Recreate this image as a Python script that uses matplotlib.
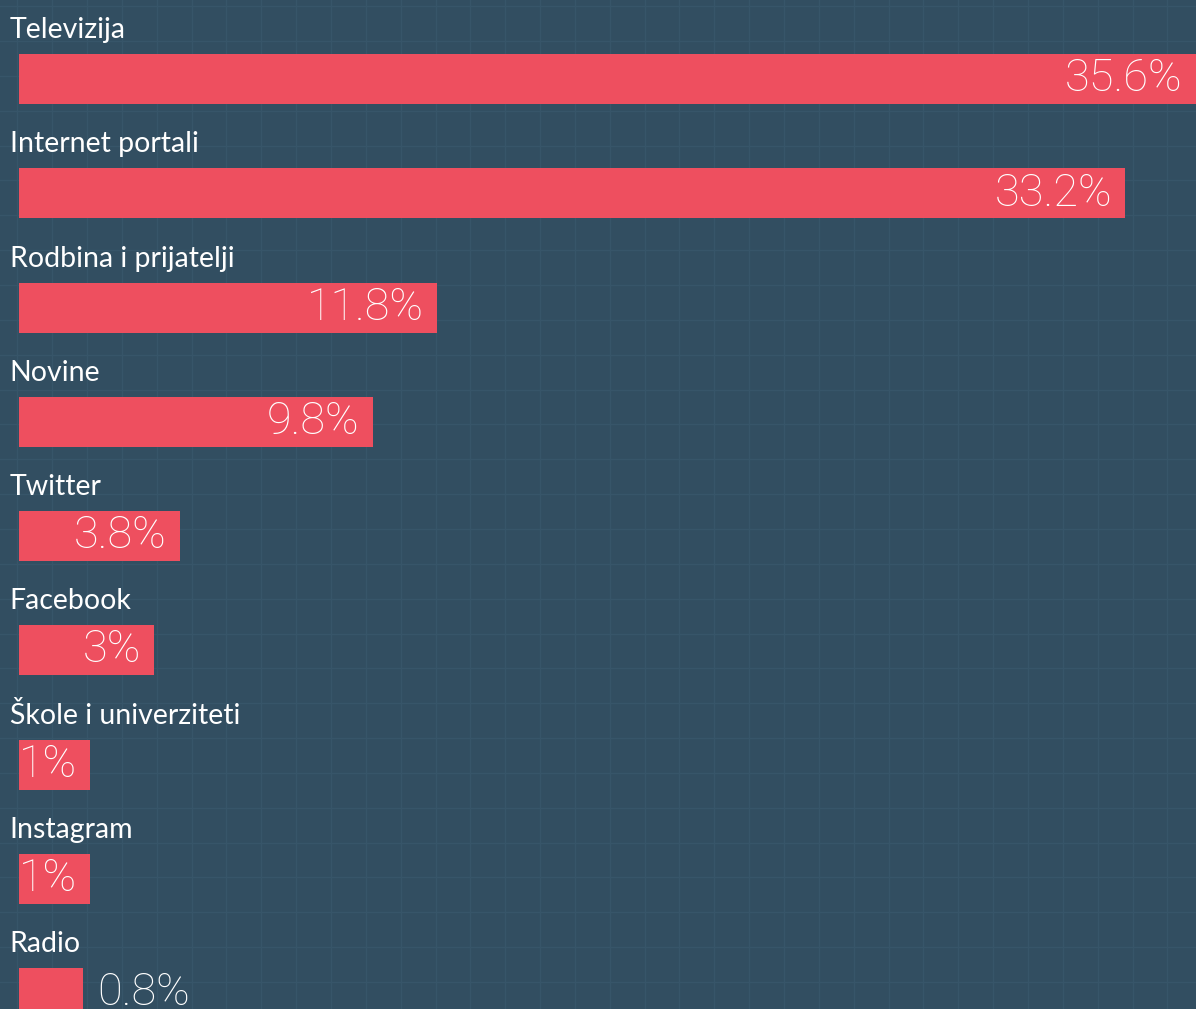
"""Horizontal bar chart: izvori informisanja (share of respondents)."""

import numpy as np
import matplotlib

matplotlib.use("Agg")
import matplotlib.pyplot as plt

categories = [
    "Televizija",
    "Internet portali",
    "Rodbina i prijatelji",
    "Novine",
    "Twitter",
    "Facebook",
    "Škole i univerziteti",
    "Instagram",
    "Radio",
]
values = [35.6, 33.2, 11.8, 9.8, 3.8, 3.0, 1.0, 1.0, 0.8]
value_labels = ["35.6%", "33.2%", "11.8%", "9.8%", "3.8%", "3%", "1%", "1%", "0.8%"]

BG = "#324e61"
GRID = "#375569"
BAR = "#ee4f5f"
FONT = ["Lato", "DejaVu Sans"]
VFONT = ["Roboto", "DejaVu Sans"]

W, H = 1196, 1009
fig = plt.figure(figsize=(W / 100, H / 100), dpi=100, facecolor=BG)

# background square grid (decorative, in pixel space)
bg = fig.add_axes([0, 0, 1, 1])
bg.set_xlim(0, W)
bg.set_ylim(H, 0)
bg.set_facecolor(BG)
bg.axis("off")
step = 34.85
for x in np.arange(17.3, W, step):
    bg.axvline(x, color=GRID, linewidth=1.0, zorder=0)
for y in np.arange(6.2, H, step):
    bg.axhline(y, color=GRID, linewidth=1.0, zorder=0)

ax = fig.add_axes([0, 0, 1, 1])
ax.patch.set_alpha(0)
ax.axis("off")

px_per_unit = 32.15
x_zero = 57.6
ax.set_xlim(-x_zero / px_per_unit, (W - x_zero) / px_per_unit)
row = 114.25
first = 79.0
ax.set_ylim((H - first) / row, -first / row)

pad = 1.2  # bars start a little left of zero
ypos = np.arange(len(categories))
ax.barh(ypos, np.array(values) + pad, left=-pad, height=50 / row, color=BAR, zorder=2)

label_gap = 13 / px_per_unit
for i, (cat, v, lab) in enumerate(zip(categories, values, value_labels)):
    ax.text(-48 / px_per_unit, i - 41 / row, cat, color="white", fontsize=20.5,
            family=FONT, ha="left", va="baseline", zorder=3)
    if v < 1.0:
        ax.text(v + 14 / px_per_unit, i, lab, color="white", fontsize=32.5, family=VFONT,
                weight="light", ha="left", va="center", zorder=3)
    else:
        ax.text(min(v, 35.4) - label_gap, i, lab, color="white", fontsize=32.5, family=VFONT,
                weight="light", ha="right", va="center", zorder=3)

fig.savefig("out.png", dpi=100, facecolor=BG)
